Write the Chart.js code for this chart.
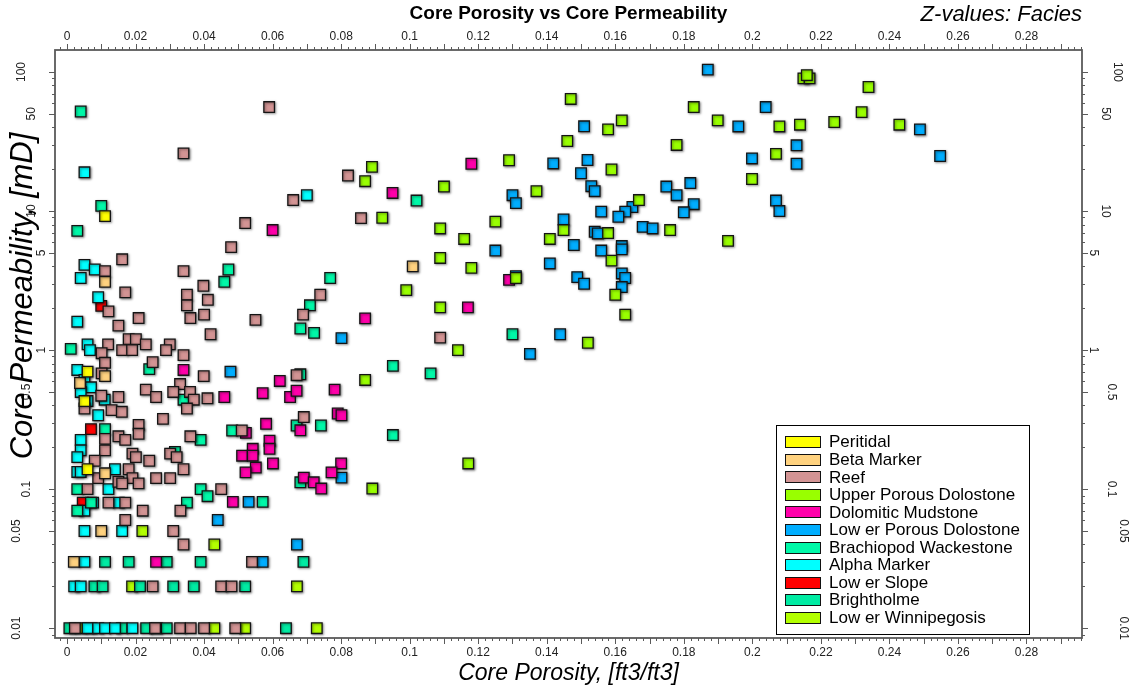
<!DOCTYPE html>
<html>
<head>
<meta charset="utf-8">
<title>Core Porosity vs Core Permeability</title>
<script src="https://cdn.jsdelivr.net/npm/chart.js@4.4.1/dist/chart.umd.min.js"></script>
<style>
  html, body { margin: 0; padding: 0; background: #ffffff; }
  #wrap { position: relative; width: 1131px; height: 688px; }
</style>
</head>
<body>
<div id="wrap"><canvas id="chart"></canvas></div>
<script>
// ---- axis tick labels ----
const xTickLabels = ['0', '0.02', '0.04', '0.06', '0.08', '0.1', '0.12', '0.14', '0.16', '0.18', '0.2', '0.22', '0.24', '0.26', '0.28'];
const yTickLabels = ['0.01', '0.05', '0.1', '0.5', '1', '5', '10', '50', '100'];

// ---- facies (legend order) and colours ----
const facies = ['Peritidal', 'Beta Marker', 'Reef', 'Upper Porous Dolostone', 'Dolomitic Mudstone',
  'Low er Porous Dolostone', 'Brachiopod Wackestone', 'Alpha Marker', 'Low er Slope', 'Brightholme', 'Low er Winnipegosis'];
const faciesColors = ['#FFFF00', '#FFD27F', '#D39494', '#99FF00', '#FF00AA',
  '#00AEFF', '#00F8A8', '#00FFFF', '#FF0000', '#00EBA3', '#B3FF00'];

// ---- core samples per facies: porosity [ft3/ft3] and permeability [mD] ----
const peritidalPorosity = [0.0111, 0.0060, 0.0051, 0.0060];
const peritidalPermeability = [9.2, 0.70, 0.43, 0.139];

const betaPorosity = [0.1009, 0.0111, 0.0111, 0.0038, 0.0111, 0.0100, 0.0020];
const betaPermeability = [4.0, 3.1, 0.65, 0.58, 0.13, 0.05, 0.03];

const reefPorosity = [
  0.0590, 0.0340, 0.0520, 0.0660, 0.0820, 0.0858, 0.1089, 0.0550, 0.0670, 0.0691, 0.0510,
  0.0739, 0.0689, 0.0479, 0.0111, 0.0161, 0.0340, 0.0170, 0.0398, 0.0350, 0.0411, 0.0350,
  0.0121, 0.0209, 0.0360, 0.0400, 0.0150, 0.0419, 0.0180, 0.0201, 0.0230, 0.0300, 0.0120,
  0.0101, 0.0161, 0.0190, 0.0289, 0.0340, 0.0111, 0.0250, 0.0101, 0.0399, 0.0330, 0.0230,
  0.0310, 0.0359, 0.0100, 0.0150, 0.0260, 0.0370, 0.0410, 0.0051, 0.0130, 0.0160, 0.0350,
  0.0280, 0.0209, 0.0111, 0.0111, 0.0150, 0.0170, 0.0209, 0.0191, 0.0201, 0.0081, 0.0091,
  0.0180, 0.0191, 0.0150, 0.0161, 0.0209, 0.0240, 0.0301, 0.0320, 0.0340, 0.0260, 0.0301,
  0.0360, 0.0060, 0.0450, 0.0121, 0.0170, 0.0221, 0.0331, 0.0170, 0.0310, 0.0340, 0.0540,
  0.0250, 0.0450, 0.0480, 0.0023, 0.0257, 0.0330, 0.0361, 0.0400, 0.0491];
const reefPermeability = [
  56, 26, 8.2, 12, 18, 8.9, 1.23, 1.65, 0.66, 0.33, 0.264,
  2.5, 1.8, 5.5, 3.7, 4.5, 3.7, 2.6, 2.9, 2.5, 2.3, 2.1,
  1.9, 1.7, 1.7, 1.8, 1.5, 1.3, 1.2, 1.2, 1.1, 1.1, 1.1,
  0.95, 1.0, 1.0, 1.0, 0.92, 0.81, 0.82, 0.68, 0.65, 0.57, 0.52,
  0.50, 0.50, 0.47, 0.46, 0.46, 0.44, 0.45, 0.38, 0.37, 0.36, 0.38,
  0.32, 0.29, 0.23, 0.19, 0.24, 0.226, 0.25, 0.18, 0.17, 0.16, 0.12,
  0.139, 0.12, 0.113, 0.11, 0.11, 0.16, 0.18, 0.17, 0.139, 0.12, 0.12,
  0.24, 0.10, 0.10, 0.08, 0.08, 0.07, 0.07, 0.06, 0.05, 0.04, 0.03,
  0.02, 0.02, 0.02, 0.01, 0.01, 0.01, 0.01, 0.01, 0.01];

const upperPorousPorosity = [
  0.0890, 0.0870, 0.0920, 0.1470, 0.1829, 0.1619, 0.1899, 0.1579, 0.1460, 0.1779, 0.1290,
  0.1589, 0.1999, 0.1100, 0.1370, 0.1669, 0.1250, 0.1449, 0.1089, 0.1579, 0.1760, 0.1929,
  0.1159, 0.1409, 0.1089, 0.1589, 0.1180, 0.1310, 0.1600, 0.0990, 0.1089, 0.1629,
  0.2149, 0.2167, 0.2159, 0.2339, 0.2319, 0.2079, 0.2139, 0.2239, 0.2429, 0.2069,
  0.1141, 0.1520, 0.0870, 0.1171, 0.0891];
const upperPorousPermeability = [
  20.8, 16.4, 8.95, 64, 56, 44.9, 44.9, 38.7, 31.9, 29.9, 23.2,
  19.9, 17, 15, 13.9, 12, 8.4, 7.3, 7.5, 6.95, 7.3, 6.1,
  6.3, 6.3, 4.6, 4.4, 3.9, 3.3, 2.5, 2.7, 2.03, 1.8,
  90, 90, 95, 78, 51.5, 40.6, 41.8, 43.7, 41.8, 25.8,
  1.0, 1.13, 0.61, 0.153, 0.101];

const mudstonePorosity = [
  0.0600, 0.0950, 0.1180, 0.1290, 0.1170, 0.0870, 0.0621, 0.0571, 0.0651, 0.0670, 0.0781,
  0.0790, 0.0801, 0.0581, 0.0681, 0.0522, 0.0591, 0.0591, 0.0542, 0.0511, 0.0542, 0.0601,
  0.0800, 0.0551, 0.0521, 0.0772, 0.0691, 0.0720, 0.0742, 0.0484, 0.0340, 0.0459, 0.0260];
const mudstonePermeability = [
  7.3, 13.5, 21.9, 3.2, 2.03, 1.69, 0.60, 0.49, 0.46, 0.51, 0.52,
  0.35, 0.34, 0.295, 0.265, 0.254, 0.223, 0.195, 0.195, 0.174, 0.174, 0.153,
  0.153, 0.143, 0.132, 0.132, 0.121, 0.112, 0.101, 0.081, 0.72, 0.46, 0.03];

const lowerPorousPorosity = [
  0.1870, 0.1959, 0.1509, 0.1419, 0.1519, 0.1500, 0.1999, 0.1300, 0.1310, 0.1530, 0.1540,
  0.1749, 0.1819, 0.1779, 0.1650, 0.1629, 0.1609, 0.1559, 0.1829, 0.1800, 0.1449, 0.1540,
  0.1549, 0.1680, 0.1709, 0.1479, 0.1250, 0.1559, 0.1619, 0.1619, 0.1409, 0.1310, 0.1489,
  0.1509, 0.1619, 0.1629, 0.1619, 0.1439, 0.2039, 0.2489, 0.2129, 0.2548, 0.2129, 0.2069,
  0.2079, 0.0801, 0.1351, 0.0477, 0.0801, 0.0530, 0.0671, 0.0571, 0.0440];
const lowerPorousPermeability = [
  104, 40.6, 40.7, 22, 23.3, 18.7, 23.9, 13, 11.4, 15.1, 13.9,
  15, 15.9, 13, 10.7, 9.9, 9.1, 9.9, 11.2, 9.8, 8.7, 7.1,
  6.9, 7.7, 7.5, 5.7, 5.2, 5.2, 5.6, 5.3, 4.2, 3.4, 3.35,
  3.0, 3.56, 3.3, 2.84, 1.30, 56, 38.7, 29.7, 24.9, 21.9, 11.9,
  10, 1.22, 0.94, 0.70, 0.121, 0.081, 0.04, 0.03, 0.06];

const brachiopodPorosity = [
  0.0040, 0.0100, 0.0030, 0.1020, 0.1300, 0.0681, 0.0721, 0.0951, 0.1061, 0.0681, 0.0670,
  0.0741, 0.0951, 0.0482, 0.0681, 0.0571, 0.0471, 0.0459, 0.0011, 0.0240, 0.0340, 0.0111,
  0.0709, 0.0768, 0.0315, 0.0390, 0.0390, 0.0410, 0.0030, 0.0070, 0.0350, 0.0030];
const brachiopodPermeability = [
  52, 10.9, 7.2, 11.9, 1.30, 1.43, 1.33, 0.77, 0.68, 0.67, 0.287,
  0.287, 0.245, 0.264, 0.112, 0.081, 3.8, 3.1, 1.02, 0.73, 0.44, 0.27,
  2.1, 3.3, 0.185, 0.226, 0.10, 0.089, 0.10, 0.08, 0.08, 0.07];

const alphaPorosity = [
  0.0051, 0.0700, 0.0051, 0.0081, 0.0040, 0.0091, 0.0030, 0.0060, 0.0067, 0.0030, 0.0051,
  0.0070, 0.0040, 0.0060, 0.0110, 0.0091, 0.0040, 0.0040, 0.0030, 0.0030, 0.0040, 0.0140,
  0.0121, 0.0076, 0.0151, 0.0051, 0.0051, 0.0161, 0.0051, 0.0021, 0.0040, 0.0060, 0.0091,
  0.0111, 0.0140, 0.0191];
const alphaPermeability = [
  19, 13, 4.1, 3.8, 3.3, 2.4, 1.6, 1.1, 1.0, 0.72, 0.61,
  0.54, 0.50, 0.43, 0.44, 0.34, 0.226, 0.19, 0.17, 0.133, 0.133, 0.139,
  0.10, 0.08, 0.08, 0.07, 0.05, 0.05, 0.03, 0.02, 0.02, 0.01, 0.01,
  0.01, 0.01, 0.01];

const lowerSlopePorosity = [0.0100, 0.0070, 0.0046];
const lowerSlopePermeability = [2.08, 0.27, 0.08];

const brightholmePorosity = [
  0.0111, 0.0180, 0.0291, 0.0390, 0.0690, 0.0080, 0.0104, 0.0213, 0.0310, 0.0370, 0.0520,
  0.0007, 0.0160, 0.0231, 0.0291, 0.0639];
const brightholmePermeability = [
  0.03, 0.03, 0.03, 0.03, 0.03, 0.02, 0.02, 0.02, 0.02, 0.02, 0.02,
  0.01, 0.01, 0.01, 0.01, 0.01];

const winnipegosisPorosity = [0.0671, 0.0190, 0.0220, 0.0430, 0.0040, 0.0072, 0.0262, 0.0430, 0.0520, 0.0729];
const winnipegosisPermeability = [0.02, 0.02, 0.05, 0.04, 0.01, 0.01, 0.01, 0.01, 0.01, 0.01];

const seriesPorosity = [peritidalPorosity, betaPorosity, reefPorosity, upperPorousPorosity, mudstonePorosity,
  lowerPorousPorosity, brachiopodPorosity, alphaPorosity, lowerSlopePorosity, brightholmePorosity, winnipegosisPorosity];
const seriesPermeability = [peritidalPermeability, betaPermeability, reefPermeability, upperPorousPermeability, mudstonePermeability,
  lowerPorousPermeability, brachiopodPermeability, alphaPermeability, lowerSlopePermeability, brightholmePermeability, winnipegosisPermeability];

const FONT = '"Liberation Sans", Arial, Helvetica, sans-serif';
const AXIS_COLOR = '#5a5a5a';

const datasets = facies.map((name, i) => ({
  label: name,
  data: seriesPorosity[i].map((x, k) => ({ x: x, y: seriesPermeability[i][k] })),
  pointStyle: 'rect',
  pointRadius: 7.5,
  pointHoverRadius: 7.5,
  backgroundColor: faciesColors[i],
  borderColor: '#141414',
  borderWidth: 1.3,
  showLine: false
}));

// soft drop shadow under the square markers
const markerShadow = {
  id: 'markerShadow',
  beforeDatasetsDraw(chart) {
    const c = chart.ctx;
    c.save();
    c.shadowColor = 'rgba(0,0,0,0.45)';
    c.shadowBlur = 2.5;
    c.shadowOffsetX = 1;
    c.shadowOffsetY = 1;
  },
  afterDatasetsDraw(chart) {
    chart.ctx.restore();
  }
};

// frame, tick marks, tick labels, titles and legend box
const decorations = {
  id: 'decorations',
  afterDraw(chart) {
    const c = chart.ctx;
    const a = chart.chartArea;
    const xs = chart.scales.x;
    const ys = chart.scales.y;
    c.save();

    // frame around the plotting area
    c.strokeStyle = AXIS_COLOR;
    c.lineWidth = 1.8;
    c.strokeRect(a.left, a.top, a.right - a.left, a.bottom - a.top);

    // x tick marks (top and bottom), every 0.002 with longer ones every 0.01
    c.lineWidth = 1;
    c.beginPath();
    for (let k = -5; k <= 160; k++) {
      const v = k * 0.002;
      if (v < xs.min || v > xs.max) continue;
      const px = Math.round(xs.getPixelForValue(v)) + 0.5;
      const len = (k % 5 === 0) ? 6 : 3;
      c.moveTo(px, a.top); c.lineTo(px, a.top - len);
      c.moveTo(px, a.bottom); c.lineTo(px, a.bottom + len);
    }
    // y tick marks (left and right), every integer step of each decade
    for (let d = -3; d <= 2; d++) {
      for (let m = 1; m <= 9; m++) {
        const v = m * Math.pow(10, d);
        if (v < ys.min || v > ys.max) continue;
        const py = Math.round(ys.getPixelForValue(v)) + 0.5;
        const len = (m === 1 || m === 5) ? 6 : 3;
        c.moveTo(a.left, py); c.lineTo(a.left - len, py);
        c.moveTo(a.right, py); c.lineTo(a.right + len, py);
      }
    }
    c.stroke();

    // x tick labels
    c.fillStyle = '#222';
    c.font = '12px ' + FONT;
    c.textAlign = 'center';
    c.textBaseline = 'middle';
    xTickLabels.forEach(t => {
      const px = xs.getPixelForValue(parseFloat(t));
      c.fillText(t, px, a.top - 13);
      c.fillText(t, px, a.bottom + 15);
    });

    // y tick labels, rotated
    yTickLabels.forEach(t => {
      const py = ys.getPixelForValue(parseFloat(t));
      const w = c.measureText(t).width;
      c.save();
      c.translate(a.left - 3 - 1.5 * w, py);
      c.rotate(-Math.PI / 2);
      c.fillText(t, 0, 0);
      c.restore();
      c.save();
      c.translate(a.right + 1.75 * w, py);
      c.rotate(Math.PI / 2);
      c.fillText(t, 0, 0);
      c.restore();
    });

    // titles
    const midX = (a.left + a.right) / 2;
    c.fillStyle = '#000';
    c.font = 'bold 19px ' + FONT;
    c.fillText('Core Porosity vs Core Permeability', midX, 14);
    c.font = 'italic 22px ' + FONT;
    c.textAlign = 'right';
    c.fillText('Z-values: Facies', a.right, 15);
    c.textAlign = 'center';
    c.font = 'italic 23px ' + FONT;
    c.fillText('Core Porosity, [ft3/ft3]', midX, 674);
    c.save();
    c.translate(23, 296);
    c.rotate(-Math.PI / 2);
    c.font = 'italic 31px ' + FONT;
    c.fillText('Core Permeability, [mD]', 0, 0);
    c.restore();

    // legend
    const lx = 776, ly = 425, lw = 253, lh = 209;
    c.fillStyle = '#fff';
    c.fillRect(lx, ly, lw, lh);
    c.strokeStyle = '#000';
    c.lineWidth = 1;
    c.strokeRect(lx + 0.5, ly + 0.5, lw, lh);
    c.font = '17px ' + FONT;
    c.textAlign = 'left';
    c.textBaseline = 'middle';
    chart.data.datasets.forEach((ds, i) => {
      const cy = 441.7 + i * 17.56;
      c.fillStyle = ds.backgroundColor;
      c.fillRect(785, Math.round(cy - 5.5), 35, 11);
      c.strokeStyle = '#111';
      c.strokeRect(785.5, Math.round(cy - 5.5) + 0.5, 35, 11);
      c.fillStyle = '#000';
      c.fillText(ds.label, 829, cy + 1);
    });

    c.restore();
  }
};

new Chart(document.getElementById('chart'), {
  type: 'scatter',
  data: { datasets: datasets },
  options: {
    responsive: true,
    maintainAspectRatio: false,
    animation: false,
    events: [],
    layout: { padding: { left: 55, right: 49, top: 50, bottom: 50 } },
    plugins: {
      legend: { display: false },
      title: { display: false },
      tooltip: { enabled: false }
    },
    scales: {
      x: { type: 'linear', min: -0.0035, max: 0.2962, display: false },
      y: { type: 'logarithmic', min: 0.0085, max: 144, display: false }
    }
  },
  plugins: [markerShadow, decorations]
});
</script>
</body>
</html>
